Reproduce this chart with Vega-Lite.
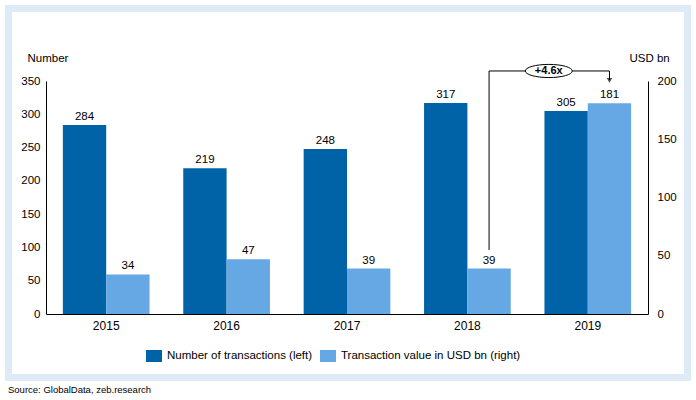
{
  "$schema": "https://vega.github.io/schema/vega-lite/v6.json",
  "autosize": "none",
  "width": 602,
  "height": 233,
  "padding": {"left": 46, "top": 81, "right": 48, "bottom": 86},
  "background": "white",
  "title": {
    "text": "Source: GlobalData, zeb.research",
    "orient": "bottom",
    "anchor": "start",
    "frame": "bounds",
    "fontSize": 9.5,
    "fontWeight": "normal",
    "color": "#000000",
    "offset": 4,
    "dx": 3
  },
  "config": {
    "font": "Liberation Sans",
    "view": {"stroke": null},
    "axis": {"grid": false, "labelColor": "#000000", "domainColor": "#000000", "labelFontSize": 11.5, "titleFontWeight": "normal", "titleFontSize": 11.5, "titleColor": "#000000"},
    "legend": {
      "orient": "none",
      "legendX": 100,
      "legendY": 267,
      "direction": "horizontal",
      "title": null,
      "symbolType": "M-1,-0.75H1V0.75H-1Z",
      "symbolSize": 256,
      "symbolStrokeWidth": 0,
      "labelFontSize": 11.5,
      "labelColor": "#000000",
      "labelOffset": 5,
      "labelLimit": 400,
      "columnPadding": 7
    }
  },
  "datasets": {
    "bars": [
      {"year": "2015", "series": "Number of transactions (left)", "amount": 284},
      {"year": "2016", "series": "Number of transactions (left)", "amount": 219},
      {"year": "2017", "series": "Number of transactions (left)", "amount": 248},
      {"year": "2018", "series": "Number of transactions (left)", "amount": 317},
      {"year": "2019", "series": "Number of transactions (left)", "amount": 305},
      {"year": "2015", "series": "Transaction value in USD bn (right)", "amount": 34},
      {"year": "2016", "series": "Transaction value in USD bn (right)", "amount": 47},
      {"year": "2017", "series": "Transaction value in USD bn (right)", "amount": 39},
      {"year": "2018", "series": "Transaction value in USD bn (right)", "amount": 39},
      {"year": "2019", "series": "Transaction value in USD bn (right)", "amount": 181}
    ],
    "bracket": [
      {"year": "2018", "val": 54.9, "o": 1},
      {"year": "2018", "val": 208.6, "o": 2},
      {"year": "2019", "val": 208.6, "o": 3},
      {"year": "2019", "val": 201, "o": 4}
    ],
    "arrowhead": [
      {"year": "2019", "val": 200.6}
    ],
    "growth": [
      {"year": "2019", "val": 208.6, "label": "+4.6x"}
    ],
    "frame": [{"k": 1}]
  },
  "resolve": {"scale": {"y": "independent"}},
  "layer": [
    {
      "data": {"name": "frame"},
      "mark": {"type": "rect", "fill": null, "stroke": "#dfeaf7", "strokeWidth": 7, "clip": false},
      "encoding": {
        "x": {"value": -37.5},
        "x2": {"value": 641.5},
        "y": {"value": -72.5},
        "y2": {"value": 296.5}
      }
    },
    {
      "data": {"name": "bars"},
      "transform": [{"filter": "datum.series === 'Number of transactions (left)'"}],
      "encoding": {
        "x": {"field": "year", "type": "nominal", "scale": {"paddingInner": 0.28, "paddingOuter": 0.14}, "axis": {"title": null, "labelAngle": 0, "ticks": false, "labelPadding": 6, "labelFontSize": 12}},
        "xOffset": {"field": "series", "type": "nominal", "scale": {"domain": ["Number of transactions (left)", "Transaction value in USD bn (right)"], "paddingInner": 0, "paddingOuter": 0}},
        "y": {"field": "amount", "type": "quantitative", "scale": {"domain": [0, 350], "nice": false}, "axis": {"orient": "left", "values": [0, 50, 100, 150, 200, 250, 300, 350], "title": "Number", "titleAngle": 0, "titleAlign": "left", "titleBaseline": "middle", "titleX": -19, "titleY": -23, "ticks": false, "labelPadding": 6}}
      },
      "layer": [
        {
          "mark": {"type": "bar"},
          "encoding": {
            "color": {"field": "series", "type": "nominal", "scale": {"domain": ["Number of transactions (left)", "Transaction value in USD bn (right)"], "range": ["#0063a7", "#66a8e3"]}}
          }
        },
        {
          "mark": {"type": "text", "baseline": "alphabetic", "dy": -5, "fontSize": 11.5, "color": "#000000"},
          "encoding": {"text": {"field": "amount", "type": "quantitative"}}
        }
      ]
    },
    {
      "layer": [
        {
          "data": {"name": "bars"},
          "transform": [{"filter": "datum.series === 'Transaction value in USD bn (right)'"}],
          "encoding": {
            "x": {"field": "year", "type": "nominal"},
            "xOffset": {"field": "series", "type": "nominal", "scale": {"domain": ["Number of transactions (left)", "Transaction value in USD bn (right)"]}},
            "y": {"field": "amount", "type": "quantitative", "scale": {"domain": [0, 200], "nice": false}, "axis": {"orient": "right", "values": [0, 50, 100, 150, 200], "title": "USD bn", "titleAngle": 0, "titleAlign": "left", "titleBaseline": "middle", "titleX": -19, "titleY": -23, "ticks": false, "labelPadding": 9}}
          },
          "layer": [
            {
              "mark": {"type": "bar"},
              "encoding": {
                "color": {"field": "series", "type": "nominal", "scale": {"domain": ["Number of transactions (left)", "Transaction value in USD bn (right)"], "range": ["#0063a7", "#66a8e3"]}}
              }
            },
            {
              "mark": {"type": "text", "baseline": "alphabetic", "dy": -5, "fontSize": 11.5, "color": "#000000"},
              "encoding": {"text": {"field": "amount", "type": "quantitative"}}
            }
          ]
        },
        {
          "data": {"name": "bracket"},
          "mark": {"type": "line", "color": "#000000", "strokeWidth": 1, "clip": false},
          "encoding": {
            "x": {"field": "year", "type": "nominal"},
            "xOffset": {"datum": "Transaction value in USD bn (right)", "type": "nominal"},
            "y": {"field": "val", "type": "quantitative"},
            "order": {"field": "o", "type": "quantitative"}
          }
        },
        {
          "data": {"name": "arrowhead"},
          "mark": {"type": "point", "shape": "triangle-down", "filled": true, "color": "#000000", "size": 30, "clip": false},
          "encoding": {
            "x": {"field": "year", "type": "nominal"},
            "xOffset": {"datum": "Transaction value in USD bn (right)", "type": "nominal"},
            "y": {"field": "val", "type": "quantitative"}
          }
        },
        {
          "data": {"name": "growth"},
          "mark": {"type": "point", "shape": "M-1,0A1,0.28 0 1,1 1,0A1,0.28 0 1,1 -1,0Z", "filled": true, "color": "#ffffff", "fill": "#ffffff", "fillOpacity": 1, "stroke": "#000000", "strokeWidth": 1, "opacity": 1, "size": 2209, "clip": false},
          "encoding": {
            "x": {"field": "year", "type": "nominal", "bandPosition": 0.05},
            "y": {"field": "val", "type": "quantitative"}
          }
        },
        {
          "data": {"name": "growth"},
          "mark": {"type": "text", "fontWeight": "bold", "fontSize": 11, "color": "#000000", "baseline": "middle", "clip": false},
          "encoding": {
            "x": {"field": "year", "type": "nominal", "bandPosition": 0.05},
            "y": {"field": "val", "type": "quantitative"},
            "text": {"field": "label", "type": "nominal"}
          }
        }
      ]
    }
  ]
}
